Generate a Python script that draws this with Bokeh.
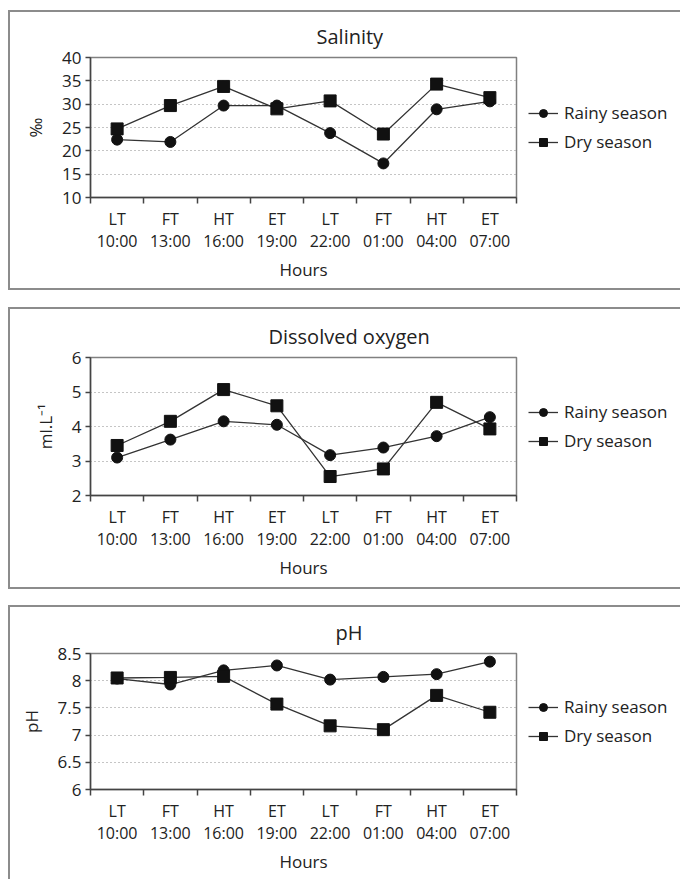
from bokeh.plotting import figure
from bokeh.models import (Legend, LegendItem, FixedTicker, NumeralTickFormatter,
                          Range1d, Title, LinearAxis)
from bokeh.layouts import column
from bokeh.embed import file_html
from bokeh.resources import INLINE

# ---------------- data ----------------
tide = ["LT", "FT", "HT", "ET", "LT", "FT", "HT", "ET"]
hours = ["10:00", "13:00", "16:00", "19:00", "22:00", "01:00", "04:00", "07:00"]

salinity_rainy = [22.4, 21.9, 29.7, 29.7, 23.8, 17.3, 28.9, 30.6]
salinity_dry = [24.7, 29.7, 33.8, 29.0, 30.7, 23.6, 34.3, 31.4]

oxygen_rainy = [3.1, 3.62, 4.15, 4.05, 3.17, 3.39, 3.72, 4.27]
oxygen_dry = [3.45, 4.15, 5.07, 4.6, 2.55, 2.77, 4.7, 3.93]

ph_rainy = [8.04, 7.93, 8.19, 8.28, 8.02, 8.07, 8.12, 8.35]
ph_dry = [8.05, 8.06, 8.08, 7.57, 7.17, 7.10, 7.73, 7.42]

series_names = ["Rainy season", "Dry season"]

FONT = "Open Sans"
TXT = "#222222"
BOX = "2px solid #8c8c8c"


def make_panel(title, title_offset, ylabel, rainy, dry, ymin, ymax, ystep,
               fmt, top, frame_h, bottom):
    n = len(tide)
    xs = list(range(n))
    p = figure(frame_width=426, frame_height=frame_h,
               x_range=Range1d(-0.5, n - 0.5), y_range=Range1d(ymin, ymax),
               output_backend="svg", toolbar_location=None, title=None,
               min_border_left=80, min_border_right=164,
               min_border_top=top, min_border_bottom=bottom)
    p.background_fill_color = "white"
    p.border_fill_color = "white"
    p.outline_line_color = "#808080"
    p.outline_line_width = 1.5

    # x axis, first row: tide labels at category centres, tick marks at boundaries
    xa = p.xaxis[0]
    xa.ticker = FixedTicker(ticks=xs, minor_ticks=[x - 0.5 for x in range(n + 1)])
    xa.major_label_overrides = {x: t for x, t in zip(xs, tide)}
    xa.major_tick_out = 0
    xa.major_tick_in = 0
    xa.minor_tick_out = 6
    xa.minor_tick_in = 0
    xa.minor_tick_line_color = "#444444"
    xa.minor_tick_line_width = 1.5
    xa.axis_line_color = "#444444"
    xa.axis_line_width = 1.5
    xa.major_label_text_font = FONT
    xa.major_label_text_font_size = "16px"
    xa.major_label_text_color = TXT
    xa.major_label_standoff = 4

    # x axis, second row: clock hours and axis title
    xb = LinearAxis(ticker=FixedTicker(ticks=xs),
                    major_label_overrides={x: h for x, h in zip(xs, hours)},
                    axis_line_color=None, major_tick_line_color=None,
                    minor_tick_line_color=None, major_tick_out=0,
                    major_tick_in=0, minor_tick_out=0, minor_tick_in=0,
                    major_label_standoff=-3,
                    major_label_text_font=FONT, major_label_text_font_size="16px",
                    major_label_text_color=TXT,
                    axis_label="Hours", axis_label_text_font=FONT,
                    axis_label_text_font_size="17px",
                    axis_label_text_font_style="normal",
                    axis_label_text_color=TXT, axis_label_standoff=3)
    p.add_layout(xb, "below")

    ya = p.yaxis[0]
    yt = []
    v = ymin
    while v <= ymax + 1e-9:
        yt.append(round(v, 3))
        v += ystep
    ya.ticker = FixedTicker(ticks=yt)
    ya.formatter = NumeralTickFormatter(format=fmt)
    ya.major_tick_out = 5
    ya.major_tick_in = 0
    ya.minor_tick_line_color = None
    ya.major_tick_line_color = "#444444"
    ya.major_tick_line_width = 1.5
    ya.axis_line_color = "#444444"
    ya.axis_line_width = 1.5
    ya.major_label_text_font = FONT
    ya.major_label_text_font_size = "17px"
    ya.major_label_text_color = TXT
    ya.major_label_standoff = 4
    ya.axis_label = ylabel
    ya.axis_label_text_font = FONT
    ya.axis_label_text_font_size = "17px"
    ya.axis_label_text_font_style = "normal"
    ya.axis_label_text_color = TXT
    ya.axis_label_standoff = 12

    p.xgrid.grid_line_color = None
    p.ygrid.ticker = FixedTicker(ticks=yt)
    p.ygrid.grid_line_color = "#8a8a8a"
    p.ygrid.grid_line_dash = "1 3"
    p.ygrid.grid_line_width = 1

    items = []
    for vals, marker, size, name in [(rainy, "circle", 11, series_names[0]),
                                     (dry, "square", 12, series_names[1])]:
        ln = p.line(xs, vals, line_color="#333333", line_width=1.3)
        sc = p.scatter(xs, vals, marker=marker, size=size, fill_color="#111111",
                       line_color="#111111")
        items.append(LegendItem(label=name, renderers=[ln, sc]))

    leg = Legend(items=items, location="center_left", margin=12, padding=0,
                 spacing=6, glyph_width=30, glyph_height=20, label_height=20,
                 label_standoff=6, label_text_font=FONT,
                 label_text_font_size="17px", label_text_color=TXT,
                 border_line_color=None, background_fill_alpha=0)
    p.add_layout(leg, "right")

    p.add_layout(Title(text=title, align="left", offset=title_offset,
                       text_font=FONT, text_font_size="20px",
                       text_font_style="normal", text_color=TXT,
                       standoff=16), "above")

    box = column(p, margin=(0, 0, 0, 8),
                 styles={"border-top": BOX, "border-bottom": BOX,
                         "border-left": BOX})
    return box


b1 = make_panel("Salinity", 226, "‰", salinity_rainy, salinity_dry,
                10, 40, 5, "0", 45, 140, 91)
b2 = make_panel("Dissolved oxygen", 178, "ml.L⁻¹", oxygen_rainy, oxygen_dry,
                2, 6, 1, "0", 48, 138, 92)
b3 = make_panel("pH", 245, "pH", ph_rainy, ph_dry,
                6, 8.5, 0.5, "0.[0]", 46, 136, 94)
b1.margin = (10, 0, 0, 8)
b2.margin = (17, 0, 0, 8)
b3.margin = (16, 0, 0, 8)

layout = column(b1, b2, b3, spacing=0)
open("out.html", "w").write(file_html(layout, INLINE))
